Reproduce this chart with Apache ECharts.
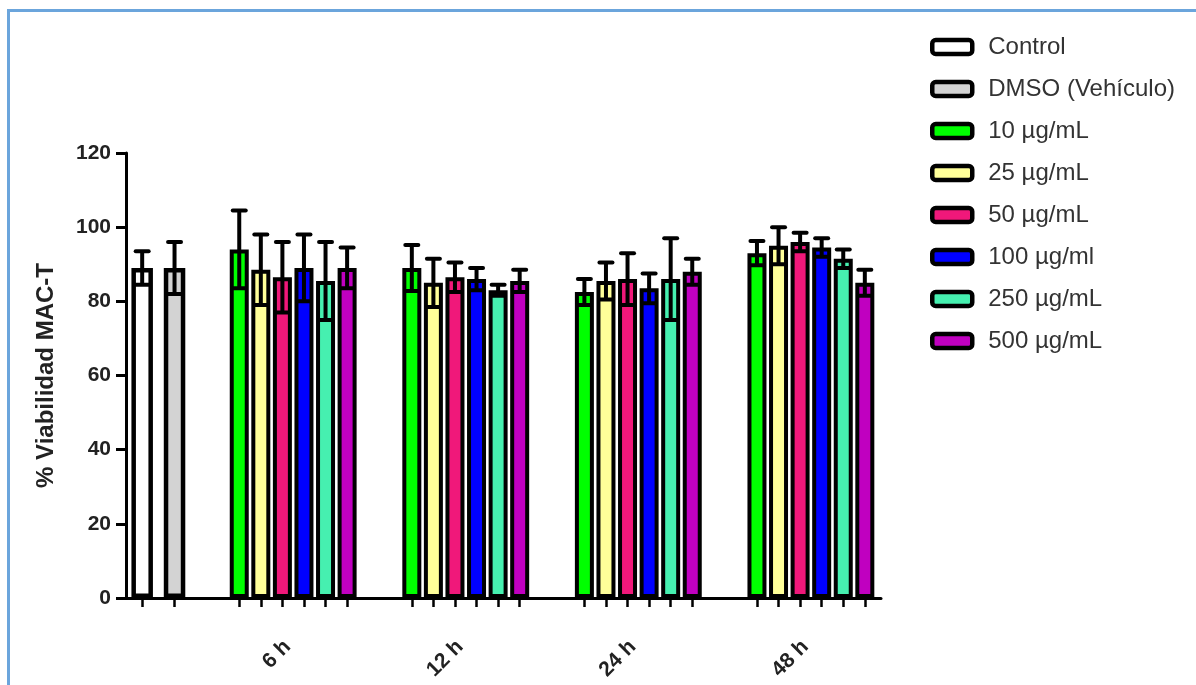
<!DOCTYPE html>
<html>
<head>
<meta charset="utf-8">
<script src="https://cdn.jsdelivr.net/npm/echarts@6/dist/echarts.min.js"></script>
<style>
  html, body { margin: 0; padding: 0; background: #ffffff; overflow: hidden; }
  #frame { position: absolute; left: 7px; top: 9px; width: 1200px; height: 700px;
           border-top: 3px solid #6ba5dc; border-left: 3px solid #6ba5dc; }
  #chart { position: absolute; left: 0; top: 0; width: 1196px; height: 685px; }
</style>
</head>
<body>
<div id="frame"></div>
<div id="chart"></div>
<script>
// Time points after exposure
const timePoints = ['6 h', '12 h', '24 h', '48 h'];

// Reference groups (no time course)
const refNames = ['Control', 'DMSO (Vehículo)'];
const refMeans = [89, 89];
const refSds = [4.5, 7];
const refColors = ['#ffffff', '#d3d3d3'];

// Extract concentrations
const concNames = ['10 µg/mL', '25 µg/mL', '50 µg/mL', '100 µg/ml', '250 µg/mL', '500 µg/mL'];
const concColors = ['#00ff00', '#ffff99', '#f0187a', '#0000ff', '#46f0b0', '#c000c0'];

// % viability (mean) per concentration, for 6 h / 12 h / 24 h / 48 h
const mean10 = [94, 89, 82.5, 93];
const mean25 = [88.5, 85, 85.5, 95];
const mean50 = [86.5, 86.5, 86, 96];
const mean100 = [89, 86, 83.5, 94.5];
const mean250 = [85.5, 83, 86, 91.5];
const mean500 = [89, 85.5, 88, 85];

// standard deviation per concentration, same order
const sd10 = [10.5, 6.2, 3.5, 3.3];
const sd25 = [9.5, 6.5, 5, 5];
const sd50 = [9.5, 4, 7, 2.5];
const sd100 = [9, 3, 4, 2.5];
const sd250 = [10.5, 1.5, 11, 2.5];
const sd500 = [5.5, 3, 3.5, 3.5];

// y axis ticks
const yTicks = [0, 20, 40, 60, 80, 100, 120];

const concMeans = [mean10, mean25, mean50, mean100, mean250, mean500];
const concSds = [sd10, sd25, sd50, sd100, sd250, sd500];

// Slot layout of the category axis (half-bar units)
const SLOT_COUNT = 70;
const REF_SLOTS = [1, 4];
const GROUP_START = 10;
const GROUP_STEP = 16;
const BAR_STEP = 2;

const slotOf = (g, k) => GROUP_START + g * GROUP_STEP + k * BAR_STEP;

const categories = new Array(SLOT_COUNT).fill('');
timePoints.forEach((t, g) => {
  categories[slotOf(g, 0) + (concNames.length - 1)] = t;
});
const barSlots = new Set(REF_SLOTS);
timePoints.forEach((t, g) => concNames.forEach((c, k) => barSlots.add(slotOf(g, k))));

const emptyRow = () => new Array(SLOT_COUNT).fill('-');

const FONT = 'Liberation Sans, Arial, sans-serif';
const series = [];
const errorData = [];

refNames.forEach((name, i) => {
  const row = emptyRow();
  row[REF_SLOTS[i]] = refMeans[i];
  series.push({
    name, type: 'bar', xAxisIndex: 1, data: row,
    barWidth: 21.5, barGap: '-100%',
    itemStyle: { color: refColors[i], borderColor: '#000', borderWidth: 4.5 },
    z: 2
  });
  errorData.push([REF_SLOTS[i], refMeans[i], refSds[i]]);
});

concNames.forEach((name, k) => {
  const row = emptyRow();
  timePoints.forEach((t, g) => {
    row[slotOf(g, k)] = concMeans[k][g];
    errorData.push([slotOf(g, k), concMeans[k][g], concSds[k][g]]);
  });
  series.push({
    name, type: 'bar', xAxisIndex: 0, data: row,
    barWidth: 19, barGap: '-100%',
    itemStyle: { color: concColors[k], borderColor: '#000', borderWidth: 4 },
    z: 2
  });
});

// Error bars: mean ± SD with caps at both ends
series.push({
  name: 'sd', type: 'custom', xAxisIndex: 0, z: 5,
  encode: { x: 0, y: 1 },
  data: errorData,
  renderItem(params, api) {
    const slot = api.value(0);
    const m = api.value(1);
    const s = api.value(2);
    const x = api.coord([slot, m])[0];
    const yTop = api.coord([slot, m + s])[1];
    const yBot = api.coord([slot, m - s])[1];
    const half = 6.5;
    const capStyle = { stroke: '#000', lineWidth: 4, lineCap: 'round' };
    return {
      type: 'group',
      children: [
        { type: 'line', shape: { x1: x, y1: yTop, x2: x, y2: yBot }, style: { stroke: '#000', lineWidth: 4 } },
        { type: 'line', shape: { x1: x - half, y1: yTop, x2: x + half, y2: yTop }, style: capStyle },
        { type: 'line', shape: { x1: x - half, y1: yBot, x2: x + half, y2: yBot }, style: capStyle }
      ]
    };
  }
});

const chart = echarts.init(document.getElementById('chart'), null, { renderer: 'canvas' });
chart.setOption({
  animation: false,
  backgroundColor: 'transparent',
  grid: { left: 126, right: 315, top: 153, bottom: 87, containLabel: false },
  legend: {
    data: refNames.concat(concNames),
    orient: 'vertical',
    left: 925, top: 30,
    itemWidth: 40, itemHeight: 14, itemGap: 18,
    icon: 'roundRect',
    itemStyle: { borderColor: '#000', borderWidth: 4.5 },
    textStyle: { fontFamily: FONT, fontSize: 24, color: '#333', padding: [0, 0, 0, 11] },
    selectedMode: false
  },
  xAxis: [
    {
      type: 'category', data: categories, boundaryGap: true,
      axisLine: { show: true, lineStyle: { color: '#000', width: 3 } },
      axisTick: {
        show: true, alignWithLabel: true, length: 9,
        interval: (i) => barSlots.has(i),
        lineStyle: { color: '#000', width: 2.5 }
      },
      axisLabel: {
        show: true,
        interval: (i, v) => v !== '',
        rotate: 45, margin: 40,
        padding: [0, 8, 0, 0],
        fontFamily: FONT, fontWeight: 'bold', fontSize: 21, color: '#222'
      },
      splitLine: { show: false }
    },
    {
      type: 'category', data: categories, boundaryGap: true, show: false
    }
  ],
  yAxis: {
    type: 'value', min: yTicks[0], max: yTicks[yTicks.length - 1], interval: yTicks[1] - yTicks[0],
    name: '% Viabilidad MAC-T', nameLocation: 'middle', nameGap: 68, nameRotate: 90,
    nameTextStyle: { fontFamily: FONT, fontWeight: 'bold', fontSize: 24, color: '#222' },
    axisLine: { show: true, lineStyle: { color: '#000', width: 3 } },
    axisTick: { show: true, length: 10, lineStyle: { color: '#000', width: 3 } },
    axisLabel: { margin: 15, fontFamily: FONT, fontWeight: 'bold', fontSize: 21, color: '#222' },
    splitLine: { show: false }
  },
  series
});
</script>
</body>
</html>
